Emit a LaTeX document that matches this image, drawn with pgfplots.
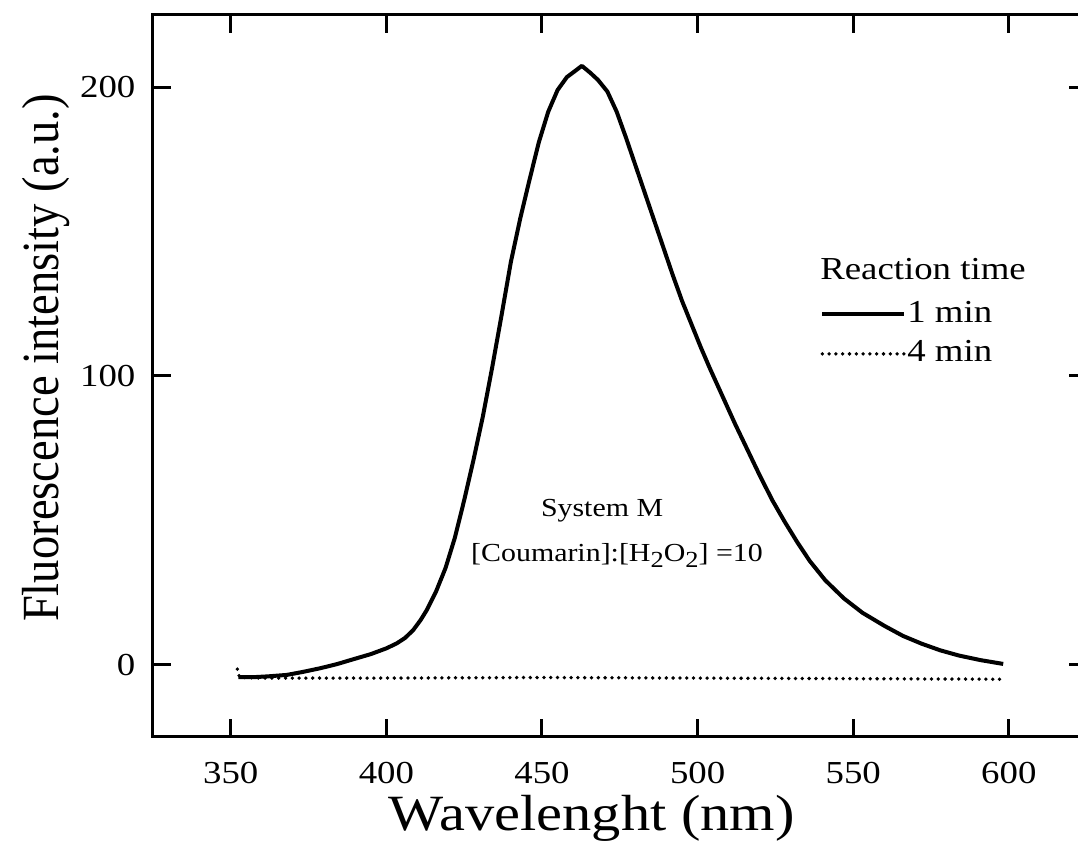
\documentclass[border=0pt]{standalone}
\usepackage{fontspec}
\setmainfont[FakeStretch=1.15]{Liberation Serif}
\newfontfamily\plainserif{Liberation Serif}
\usepackage{pgfplots}
\pgfplotsset{compat=1.18}
\begin{document}
\begin{tikzpicture}
\begin{axis}[
  scale only axis,
  width=466.8pt, height=361pt,
  xmin=325, xmax=625, ymin=-25, ymax=225,
  xtick={350,400,450,500,550,600},
  ytick={0,100,200},
  tick align=inside,
  major tick length=9pt,
  axis line style={line width=1.5pt},
  every tick/.style={line width=1.5pt, black},
  /pgf/number format/assume math mode=true,
  ticklabel style={font=\fontsize{16}{19}\selectfont},
  xticklabel style={yshift=-9.2pt},
  yticklabel style={xshift=-5.3pt},
  xlabel={Wavelenght (nm)},
  ylabel={\plainserif\scalebox{1}[1.12]{Fluorescence intensity (a.u.)}},
  xlabel style={font=\fontsize{25.4}{30}\selectfont, at={(axis description cs:0.47,-0.1123)}, anchor=center},
  ylabel style={font=\fontsize{23.3}{28}\selectfont, at={(axis description cs:-0.1146,0.525)}, anchor=center},
  legend style={at={(axis cs:539.3,126.7)}, anchor=north west, draw=none, fill=none,
    inner sep=0pt, font=\fontsize{16}{19}\selectfont, row sep=4.8pt,
    nodes={inner sep=0.5pt, text height=11pt, text depth=3pt}},
  legend cell align=left,
  legend image code/.code={\draw[#1] (0pt,0pt) -- (41pt,0pt);},
]
\addplot[black, line width=2pt, line join=round] coordinates {
(352.4,-4.3) (357,-4.3) (362,-4.0) (368,-3.5) (373,-2.5) (378.7,-1.2)
(384,0.2) (389.3,1.9) (395,3.7) (400,5.7) (403.3,7.4) (406,9.3) (408.6,12.0)
(411,15.5) (413,19) (416,25.5) (419,33.5) (422,44) (425,57) (428,71)
(431,86) (434,103) (437,121) (440,139.5) (443,154.5) (446,168) (449,181)
(452,191.5) (455,199) (458,203.5) (460.5,205.5) (462.8,207.4) (465.5,205)
(468,202.5) (471,198.5) (474,191.5) (477,182.5) (480,173) (483,163.5)
(486,154) (489,144.5) (492,135) (495,126) (498,118) (501,110) (504,102.5)
(508,93) (512,83.5) (516,74.5) (520,65.5) (524,57) (528,49.5) (532,42.5)
(536,36) (541,29.3) (547,23) (553,18) (560,13.5) (566,10) (572,7.3)
(578,5) (584,3.2) (591,1.6) (598.2,0.3)
};
\addlegendentry{1 min}
\addplot[black, line width=1.9pt, line cap=round, dash pattern=on 0pt off 3.4pt] coordinates {
(352.1,-1.5) (352.8,-4.3) (360,-4.6) (400,-4.6) (450,-4.4) (500,-4.6) (550,-4.8) (598.2,-5.0)
};
\addlegendentry{4 min}
\node[anchor=base west, inner sep=0pt, font=\fontsize{16}{19}\selectfont] at (axis cs:539.3,133.5) {Reaction time};
\node[anchor=center, inner sep=0pt, font=\fontsize{13}{16}\selectfont] at (axis cs:469.3,53.5) {System M};
\node[anchor=center, inner sep=0pt, font=\fontsize{13}{16}\selectfont] at (axis cs:474.1,37.7) {[Coumarin]:[H\raisebox{-0.5ex}{\fontsize{11.5}{12}\selectfont 2}O\raisebox{-0.5ex}{\fontsize{11.5}{12}\selectfont 2}] =10};
\end{axis}
\pgfresetboundingbox
\path[use as bounding box] (-76.5pt,-60pt) rectangle (462.5pt,368.5pt);
\end{tikzpicture}
\end{document}
